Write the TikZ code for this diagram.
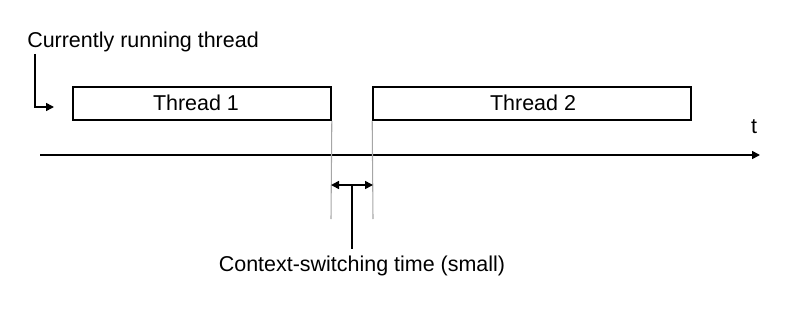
\documentclass[tikz,border=0pt]{standalone}
\usepackage{fontspec}
\setmainfont{Liberation Sans}
\usetikzlibrary{arrows.meta}
\begin{document}
\begin{tikzpicture}[x=0.75pt,y=-0.75pt,
  lbl/.style={inner sep=0pt,font=\fontsize{16.1}{19}\selectfont},
  threadbox/.style={draw,line width=1.2pt,minimum height=24.75pt,inner sep=0pt},
  blk/.style={line width=1.2pt},
  guide/.style={draw=gray!70,line width=0.8pt},
  tip/.style={-{Triangle[length=6pt,width=6pt]}}]
\useasboundingbox (0,0) rectangle (798,310);
\node[lbl,anchor=west] (cur) at (27,42) {Currently running thread};
\node[threadbox,minimum width=193.5pt] (t1) at (202,103.5) {};
\node[threadbox,minimum width=238.5pt] (t2) at (532,103.5) {};
\node[lbl] (t1l) at (196,102.5) {Thread 1};
\node[lbl] (t2l) at (533,102.5) {Thread 2};
\coordinate (a0) at (40,155);
\coordinate (a1) at (760,155);
\draw[blk,tip] (a0) -- (a1);
\node[lbl] (t) at (754,127) {t};
\coordinate (lt) at (35,54);
\coordinate (lb) at (35,107);
\coordinate (le) at (54,107);
\draw[blk,tip] (lt) -- (lb) -- (le);
\coordinate (g1b) at (331,219);
\coordinate (g2b) at (373,219);
\draw[guide] (t1.south east) -- (g1b);
\draw[guide] (t2.south west) -- (g2b);
\coordinate (d1) at (331,185);
\coordinate (d2) at (373,185);
\draw[blk,{Triangle[length=6pt,width=6pt]}-{Triangle[length=6pt,width=6pt]}] (d1) -- (d2);
\coordinate (dm) at (352,185);
\node[lbl] (cs) at (362,266) {Context-switching time (small)};
\draw[blk] (dm) -- (352,249);
\end{tikzpicture}
\end{document}
